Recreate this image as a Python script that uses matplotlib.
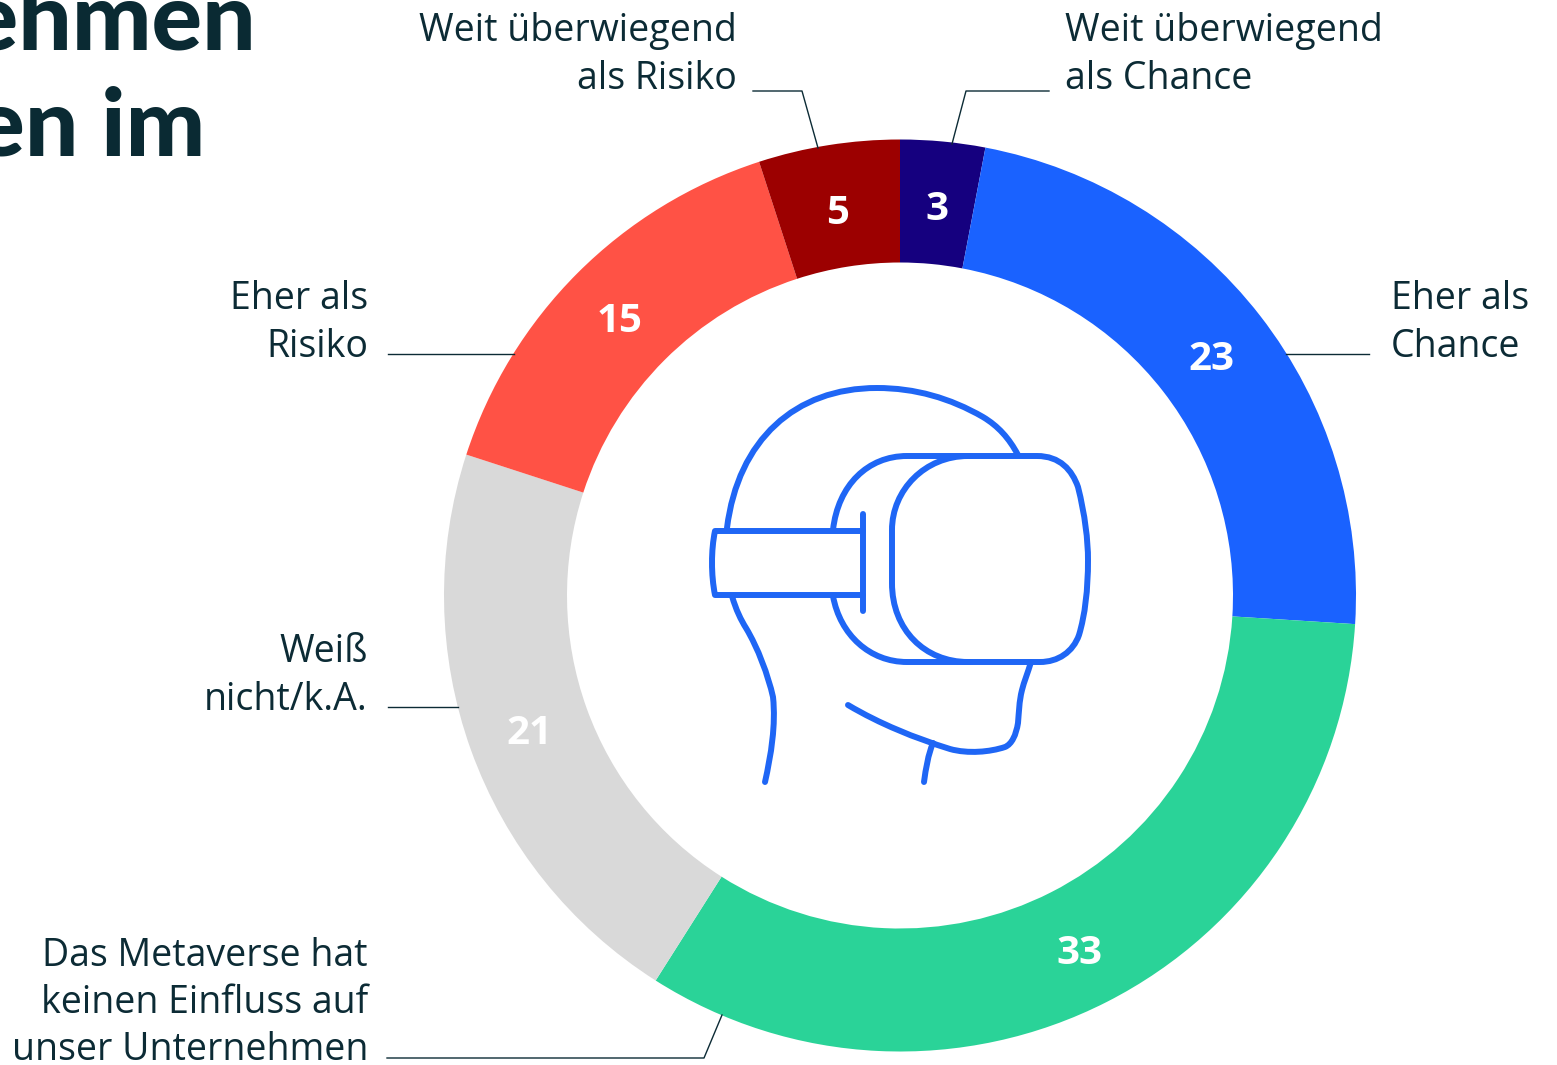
import matplotlib
matplotlib.use("Agg")
import matplotlib.pyplot as plt
from matplotlib.path import Path
from matplotlib.patches import PathPatch

W, H = 1557, 1065
CX, CY, R_OUT, R_IN = 900, 595.5, 456, 333

values = [3, 23, 33, 21, 15, 5]
colors = ["#15007f", "#1a62ff", "#2ad398", "#d9d9d9", "#ff5245", "#9c0000"]
value_labels = ["3", "23", "33", "21", "15", "5"]
TEXT = "#0c2b35"
BLUE = "#1f66f5"

plt.rcParams["font.family"] = ["Open Sans", "DejaVu Sans"]

fig = plt.figure(figsize=(W / 100, H / 100), dpi=100)
ax = fig.add_axes([0, 0, 1, 1])
ax.set_xlim(0, W)
ax.set_ylim(H, 0)
ax.axis("off")


def py_path(verts, codes, **kw):
    ax.add_patch(PathPatch(Path(verts, codes), fill=False, **kw))


# donut, clockwise on screen because y axis is flipped
wedges, _ = ax.pie(values, colors=colors, startangle=-90, counterclock=True,
                   center=(CX, CY), radius=R_OUT,
                   wedgeprops=dict(width=R_OUT - R_IN, linewidth=0))
ax.set_xlim(0, W)
ax.set_ylim(H, 0)
ax.set_aspect("equal")

# number labels
num_pos = [(937, 210), (1211, 360), (1079, 954), (529, 734), (620, 322), (838, 213)]
for (x, y), s in zip(num_pos, value_labels):
    ax.text(x, y, s, color="white", fontsize=29, fontweight="bold",
            ha="center", va="center")

# labels
label_kw = dict(color=TEXT, fontsize=27, linespacing=1.32)
ax.text(737, 55, "Weit überwiegend\nals Risiko", ha="right", va="center", **label_kw)
ax.text(1065, 55, "Weit überwiegend\nals Chance", ha="left", va="center", **label_kw)
ax.text(368, 323, "Eher als\nRisiko", ha="right", va="center", **label_kw)
ax.text(1391, 323, "Eher als\nChance", ha="left", va="center", **label_kw)
ax.text(368, 676, "Weiß\nnicht/k.A.", ha="right", va="center", **label_kw)
ax.text(368, 1003, "Das Metaverse hat\nkeinen Einfluss auf\nunser Unternehmen",
        ha="right", va="center", **label_kw)

# leader lines
leaders = [
    [(753, 91), (802, 91), (818, 148)],
    [(1049, 91), (966, 91), (952, 144)],
    [(388, 354), (514, 354)],
    [(1286, 354), (1369, 354)],
    [(388, 707), (458, 707)],
    [(387, 1058), (704, 1058), (722, 1015)],
]
for pts in leaders:
    ax.plot([p[0] for p in pts], [p[1] for p in pts], color=TEXT, lw=1)

# cut off title
title_kw = dict(color="#0a2a33", fontsize=68, fontweight="black", family=["Lato", "DejaVu Sans"], ha="right")
ax.text(256, 49, "nehmen", va="baseline", **title_kw)
ax.text(205, 156, "gen im", va="baseline", **title_kw)

# headset icon
M, L, C = Path.MOVETO, Path.LINETO, Path.CURVE4
icon = dict(edgecolor=BLUE, lw=4.3, capstyle="round", joinstyle="round")
# head top
py_path([(727, 528), (738, 440), (795, 388), (877, 388), (915, 388), (950, 398), (983, 417),
         (998, 426), (1009, 438), (1018, 455)],
        [M, C, C, C, C, C, C, C, C, C], **icon)
# visor front
py_path([(968, 456), (925, 456), (892, 490), (892, 530), (892, 583),
         (892, 630), (925, 662), (968, 662), (1040, 662),
         (1058, 662), (1073, 652), (1079, 635), (1085, 615), (1088, 590), (1088, 560),
         (1088, 540), (1085, 515), (1078, 487), (1072, 470), (1060, 456), (1037, 456), (968, 456)],
        [M, C, C, C, L, C, C, C, L, C, C, C, C, C, C, C, C, C, C, C, C, L], **icon)
# visor back
py_path([(970, 456), (907, 456), (868, 456), (838, 485), (833, 530)],
        [M, L, C, C, C], **icon)
py_path([(833, 596), (840, 635), (870, 662), (907, 662), (970, 662)],
        [M, C, C, C, L], **icon)
# strap
py_path([(863, 531), (715, 531), (711, 550), (711, 575), (715, 595), (863, 595)],
        [M, L, C, C, C, L], **icon)
py_path([(863, 514), (863, 611)], [M, L], **icon)
# neck back
py_path([(732, 596), (736, 610), (741, 620), (746, 628), (758, 648), (768, 675), (773, 697),
         (776, 725), (771, 755), (765, 782)],
        [M, C, C, C, C, C, C, C, C, C], **icon)
# jaw
py_path([(1031, 662), (1028, 672), (1024, 682), (1022, 690), (1019, 702), (1019, 712), (1018, 723),
         (1016, 735), (1012, 744), (1005, 747), (990, 752), (968, 754), (950, 749),
         (915, 738), (880, 724), (848, 705)],
        [M, C, C, C, C, C, C, C, C, C, C, C, C, C, C, C], **icon)
py_path([(933, 743), (928, 755), (926, 768), (924, 782)], [M, C, C, C], **icon)

fig.savefig("out.png", dpi=100)
